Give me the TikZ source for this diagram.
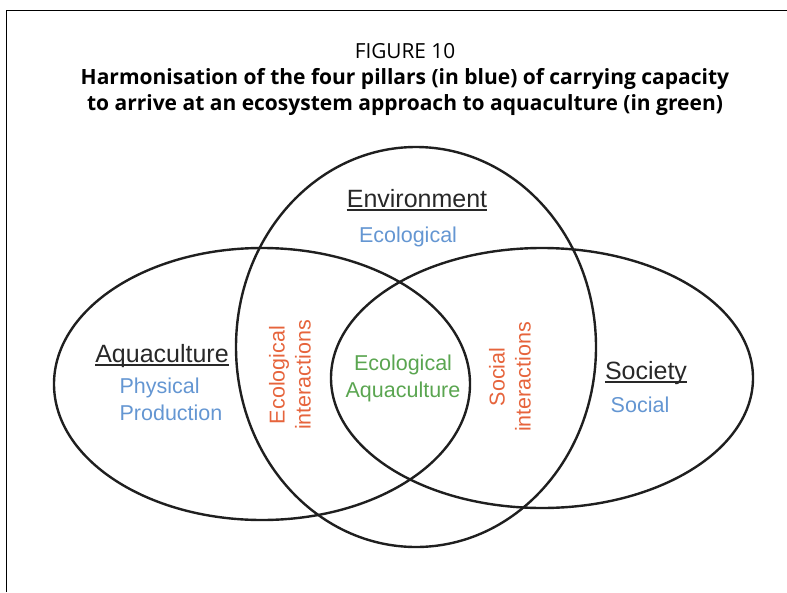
\documentclass[tikz,border=0pt]{standalone}
\usepackage{fontspec}
\setmainfont{Open Sans}
\newfontfamily\arialfont{Liberation Sans}
\definecolor{pillarblue}{RGB}{100,150,210}
\definecolor{interorange}{RGB}{230,100,60}
\definecolor{eaagreen}{RGB}{90,165,80}
\definecolor{headgray}{RGB}{40,40,40}
\begin{document}
\begin{tikzpicture}[x=1pt,y=-1pt,
    setline/.style={line width=2.4pt,black!88},
    heading/.style={font=\arialfont\fontsize{25}{28}\selectfont,text=headgray,inner sep=0pt,anchor=base},
    uline/.style={line width=1.6pt,headgray},
    pillartext/.style={font=\arialfont\fontsize{21.5}{27}\selectfont,text=pillarblue,inner sep=0pt,anchor=base},
    intertext/.style={font=\arialfont\fontsize{21.5}{26}\selectfont,text=interorange,inner sep=0pt,rotate=90,align=center},
    eaatext/.style={font=\arialfont\fontsize{21.5}{27}\selectfont,text=eaagreen,inner sep=0pt,anchor=base,align=center}]
  \useasboundingbox (0,0) rectangle (787,592);
  \coordinate (framebl) at (6,592);
  \coordinate (frametl) at (6,10);
  \coordinate (frametr) at (787,10);
  \draw[line width=1pt] (framebl) -- (frametl) -- (frametr);
  \node[font=\fontsize{20.8}{26}\selectfont,inner sep=0pt,anchor=base] (fig) at (405,58) {FIGURE 10};
  \node[font=\bfseries\fontsize{21}{26}\selectfont,inner sep=0pt,anchor=base,align=center] (title) at (405,110)
    {Harmonisation of the four pillars (in blue) of carrying capacity\\to arrive at an ecosystem approach to aquaculture (in green)};
  \coordinate (aqua) at (262,384);
  \coordinate (env) at (416,347);
  \coordinate (soc) at (542,378);
  \begin{scope}[setline]
    \draw (aqua) ellipse [x radius=208pt, y radius=136pt];
    \draw (env) ellipse [x radius=180pt, y radius=200pt];
    \draw (soc) ellipse [x radius=211pt, y radius=130pt];
  \end{scope}
  \node[heading] (envhead) at (417,207) {Environment};
  \node[pillartext] (envpillar) at (408,242) {Ecological};
  \node[heading] (aquahead) at (162,362) {Aquaculture};
  \node[pillartext,align=left] (aquapillar) at (171,420) {Physical\\Production};
  \node[heading] (sochead) at (646,379) {Society};
  \node[pillartext] (socpillar) at (640,412) {Social};
  \node[intertext] (ecoint) at (290,375) {Ecological\\interactions};
  \node[intertext] (socint) at (510,377) {Social\\interactions};
  \node[eaatext] (eaa) at (403,397) {Ecological\\Aquaculture};
  \begin{scope}[uline]
    \draw ([yshift=-3pt]envhead.base west) -- ([yshift=-3pt]envhead.base east);
    \draw ([yshift=-3pt]aquahead.base west) -- ([yshift=-3pt]aquahead.base east);
    \draw ([yshift=-3pt]sochead.base west) -- ([yshift=-3pt]sochead.base east);
  \end{scope}
\end{tikzpicture}
\end{document}
